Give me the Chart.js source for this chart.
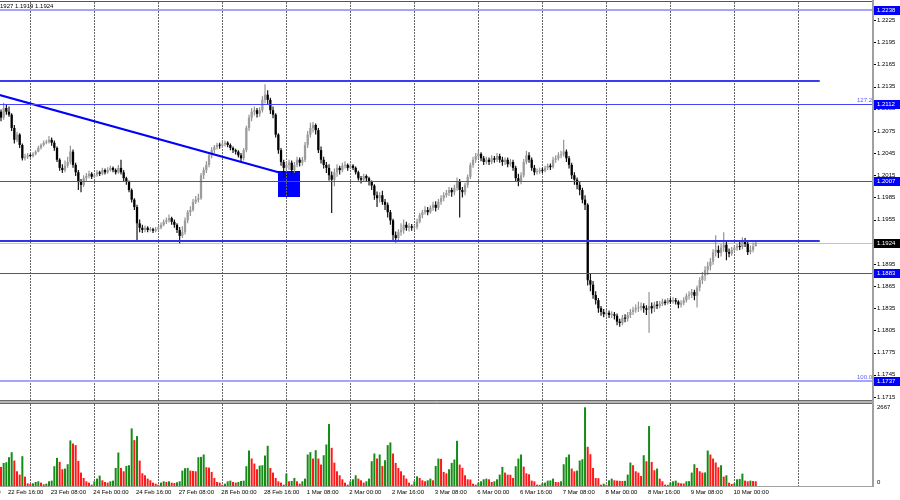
<!DOCTYPE html>
<html><head><meta charset="utf-8">
<script src="https://cdn.jsdelivr.net/npm/chart.js@4.4.0/dist/chart.umd.min.js"></script>
<style>html,body{margin:0;padding:0;background:#fff;overflow:hidden}canvas{display:block}</style>
</head><body>
<canvas id="c" width="900" height="500"></canvas>
<script>
// ---------- DATA (EURUSD H1, 22 Feb 13:00 .. 10 Mar 09:00) ----------
const firstOpen = 1.2101;
const closes = [
1.2093,1.2106,1.2101,1.2097,1.2079,1.2063,1.2070,1.2056,1.2038,1.2040,
1.2042,1.2041,1.2044,1.2047,1.2052,1.2056,1.2059,1.2060,1.2063,1.2059,
1.2052,1.2036,1.2025,1.2022,1.2028,1.2033,1.2047,1.2029,1.2019,1.2006,
1.2002,1.2011,1.2014,1.2017,1.2013,1.2015,1.2019,1.2017,1.2022,1.2019,
1.2022,1.2025,1.2022,1.2019,1.2025,1.2019,1.2011,1.2006,1.1995,1.1982,
1.1972,1.1950,1.1944,1.1941,1.1944,1.1941,1.1942,1.1940,1.1942,1.1944,
1.1948,1.1952,1.1954,1.1957,1.1952,1.1948,1.1941,1.1933,1.1938,1.1954,
1.1965,1.1968,1.1979,1.1982,1.1984,1.2015,1.2022,1.2029,1.2042,1.2049,
1.2053,1.2056,1.2055,1.2057,1.2059,1.2056,1.2052,1.2049,1.2047,1.2042,
1.2038,1.2049,1.2079,1.2093,1.2101,1.2103,1.2098,1.2103,1.2117,1.2124,
1.2117,1.2103,1.2097,1.2070,1.2049,1.2033,1.2025,1.2029,1.2032,1.2022,
1.2029,1.2036,1.2032,1.2036,1.2056,1.2070,1.2079,1.2083,1.2076,1.2049,
1.2036,1.2029,1.2025,1.2015,1.2009,1.2019,1.2025,1.2022,1.2028,1.2029,
1.2025,1.2028,1.2025,1.2019,1.2011,1.2009,1.2014,1.2011,1.2006,1.2001,
1.1988,1.1984,1.1988,1.1979,1.1975,1.1965,1.1954,1.1934,1.1930,1.1938,
1.1941,1.1948,1.1944,1.1946,1.1944,1.1945,1.1952,1.1961,1.1965,1.1968,
1.1965,1.1971,1.1975,1.1971,1.1979,1.1984,1.1988,1.1991,1.1995,1.1992,
1.1998,1.2006,1.1995,1.1992,1.2002,1.2013,1.2029,1.2036,1.2041,1.2044,
1.2038,1.2033,1.2036,1.2033,1.2038,1.2036,1.2041,1.2036,1.2033,1.2036,
1.2030,1.2033,1.2025,1.2011,1.2006,1.2015,1.2033,1.2042,1.2036,1.2025,
1.2019,1.2020,1.2022,1.2021,1.2025,1.2028,1.2026,1.2036,1.2038,1.2042,
1.2043,1.2047,1.2038,1.2029,1.2015,1.2009,1.2002,1.1995,1.1982,1.1975,
1.1873,1.1867,1.1853,1.1846,1.1835,1.1830,1.1827,1.1829,1.1826,1.1827,
1.1825,1.1817,1.1815,1.1822,1.1821,1.1826,1.1830,1.1833,1.1835,1.1836,
1.1838,1.1835,1.1833,1.1838,1.1835,1.1840,1.1838,1.1841,1.1844,1.1842,
1.1846,1.1844,1.1846,1.1844,1.1840,1.1842,1.1846,1.1852,1.1853,1.1857,
1.1852,1.1863,1.1873,1.1879,1.1887,1.1892,1.1898,1.1911,1.1914,1.1910,
1.1917,1.1921,1.1911,1.1909,1.1914,1.1917,1.1919,1.1918,1.1927,1.1922,
1.1911,1.1914,1.1919,1.1924];
const highs = [
1.2104,1.2113,1.2110,1.2108,1.2099,1.2083,1.2074,1.2072,1.2058,1.2044,
1.2045,1.2044,1.2046,1.2049,1.2055,1.2058,1.2062,1.2063,1.2068,1.2066,
1.2062,1.2054,1.2038,1.2030,1.2035,1.2040,1.2055,1.2050,1.2032,1.2022,
1.2010,1.2015,1.2018,1.2021,1.2019,1.2018,1.2022,1.2021,1.2025,1.2024,
1.2026,1.2028,1.2027,1.2024,1.2029,1.2036,1.2022,1.2013,1.2008,1.1997,
1.1984,1.1975,1.1955,1.1948,1.1947,1.1946,1.1945,1.1944,1.1945,1.1947,
1.1951,1.1955,1.1958,1.1962,1.1959,1.1955,1.1950,1.1945,1.1946,1.1958,
1.1968,1.1973,1.1983,1.1987,1.1990,1.2018,1.2026,1.2034,1.2046,1.2053,
1.2056,1.2059,1.2059,1.2062,1.2062,1.2061,1.2058,1.2054,1.2051,1.2049,
1.2045,1.2052,1.2082,1.2097,1.2106,1.2108,1.2106,1.2107,1.2122,1.2138,
1.2130,1.2120,1.2108,1.2099,1.2072,1.2052,1.2036,1.2034,1.2036,1.2035,
1.2033,1.2040,1.2039,1.2040,1.2060,1.2075,1.2086,1.2087,1.2085,1.2079,
1.2054,1.2040,1.2033,1.2030,1.2020,1.2024,1.2030,1.2028,1.2032,1.2034,
1.2031,1.2031,1.2030,1.2027,1.2021,1.2014,1.2017,1.2016,1.2013,1.2008,
1.2003,1.1993,1.1992,1.1994,1.1983,1.1978,1.1968,1.1956,1.1939,1.1942,
1.1950,1.1955,1.1952,1.1950,1.1949,1.1948,1.1956,1.1964,1.1968,1.1973,
1.1972,1.1974,1.1979,1.1980,1.1983,1.1988,1.1992,1.1995,1.1999,1.1998,
1.2002,1.2012,1.2010,1.1999,1.2005,1.2016,1.2032,1.2040,1.2045,1.2048,
1.2046,1.2041,1.2040,1.2039,1.2042,1.2041,1.2045,1.2044,1.2040,1.2039,
1.2039,1.2037,1.2036,1.2028,1.2017,1.2019,1.2037,1.2048,1.2046,1.2039,
1.2029,1.2024,1.2025,1.2025,1.2028,1.2031,1.2031,1.2040,1.2042,1.2046,
1.2048,1.2063,1.2050,1.2041,1.2032,1.2019,1.2012,1.2006,1.1998,1.1988,
1.1977,1.1882,1.1872,1.1858,1.1849,1.1838,1.1834,1.1833,1.1832,1.1831,
1.1830,1.1828,1.1821,1.1826,1.1827,1.1830,1.1834,1.1837,1.1840,1.1844,
1.1843,1.1842,1.1839,1.1857,1.1843,1.1844,1.1845,1.1845,1.1848,1.1847,
1.1849,1.1849,1.1850,1.1849,1.1846,1.1846,1.1850,1.1855,1.1858,1.1861,
1.1860,1.1866,1.1877,1.1884,1.1892,1.1898,1.1903,1.1915,1.1934,1.1920,
1.1922,1.1938,1.1925,1.1916,1.1918,1.1920,1.1922,1.1925,1.1931,1.1930,
1.1925,1.1920,1.1924,1.1927];
const lows = [
1.2088,1.2090,1.2097,1.2094,1.2075,1.2058,1.2060,1.2052,1.2035,1.2035,
1.2037,1.2039,1.2039,1.2042,1.2046,1.2050,1.2054,1.2057,1.2058,1.2055,
1.2048,1.2033,1.2021,1.2018,1.2019,1.2025,1.2030,1.2025,1.2014,1.1995,
1.1992,1.1999,1.2007,1.2011,1.2010,1.2011,1.2013,1.2014,1.2015,1.2016,
1.2017,1.2020,1.2019,1.2016,1.2017,1.2016,1.2007,1.2002,1.1992,1.1978,
1.1968,1.1927,1.1938,1.1937,1.1938,1.1938,1.1939,1.1937,1.1938,1.1940,
1.1942,1.1946,1.1949,1.1951,1.1948,1.1944,1.1937,1.1923,1.1930,1.1935,
1.1950,1.1960,1.1966,1.1976,1.1978,1.1982,1.2010,1.2018,1.2026,1.2038,
1.2045,1.2050,1.2051,1.2052,1.2054,1.2053,1.2049,1.2045,1.2043,1.2039,
1.2034,1.2035,1.2046,1.2075,1.2088,1.2096,1.2093,1.2094,1.2100,1.2112,
1.2111,1.2098,1.2092,1.2066,1.2044,1.2028,1.2012,1.2020,1.2022,1.2015,
1.2018,1.2026,1.2027,1.2028,1.2033,1.2052,1.2066,1.2073,1.2070,1.2045,
1.2031,1.2024,1.2018,1.2008,1.1964,1.2000,1.2013,1.2016,1.2019,1.2024,
1.2021,1.2023,1.2022,1.2016,1.2008,1.2004,1.2006,1.2007,1.2001,1.1995,
1.1982,1.1972,1.1978,1.1975,1.1968,1.1958,1.1948,1.1927,1.1924,1.1926,
1.1933,1.1936,1.1940,1.1939,1.1940,1.1941,1.1942,1.1950,1.1957,1.1962,
1.1961,1.1963,1.1967,1.1966,1.1968,1.1975,1.1980,1.1985,1.1987,1.1986,
1.1988,1.1994,1.1958,1.1985,1.1988,1.1998,1.2010,1.2025,1.2032,1.2037,
1.2034,1.2029,1.2030,1.2029,1.2030,1.2032,1.2033,1.2032,1.2028,1.2029,
1.2026,1.2027,1.2021,1.2006,1.2000,1.2003,1.2012,1.2030,1.2032,1.2021,
1.2015,1.2016,1.2017,1.2018,1.2019,1.2022,1.2022,1.2024,1.2032,1.2035,
1.2038,1.2040,1.2033,1.2024,1.2010,1.2002,1.1996,1.1988,1.1977,1.1968,
1.1866,1.1858,1.1848,1.1840,1.1829,1.1825,1.1823,1.1824,1.1822,1.1822,
1.1820,1.1812,1.1810,1.1812,1.1816,1.1817,1.1822,1.1826,1.1829,1.1830,
1.1832,1.1829,1.1826,1.1802,1.1828,1.1830,1.1834,1.1835,1.1838,1.1839,
1.1840,1.1841,1.1841,1.1840,1.1835,1.1836,1.1839,1.1843,1.1847,1.1849,
1.1846,1.1836,1.1858,1.1868,1.1872,1.1880,1.1886,1.1894,1.1905,1.1903,
1.1905,1.1912,1.1900,1.1904,1.1906,1.1910,1.1913,1.1914,1.1915,1.1918,
1.1907,1.1908,1.1911,1.1919];
const volumes = [
647,783,806,976,1146,863,499,386,1010,318,
91,68,91,136,159,114,57,79,159,182,
670,953,817,568,590,738,1544,1441,1385,851,
454,272,159,114,45,159,250,352,193,136,
114,159,182,613,1135,613,499,681,704,1952,
1555,1691,863,431,363,250,193,114,79,45,
114,159,136,159,114,102,125,159,522,602,
613,522,511,499,976,987,1067,636,624,477,
272,136,114,45,79,159,182,136,114,136,
170,182,670,1203,931,760,568,692,704,1033,
1362,613,454,272,159,114,45,420,159,170,
272,159,79,159,250,1067,1146,931,1214,931,
726,1044,1407,2100,1294,794,499,363,227,114,
45,159,227,363,250,193,114,159,250,840,
1101,931,1067,681,874,1385,1476,1101,783,613,
499,363,250,114,45,159,329,272,193,159,
193,250,193,681,931,920,477,430,568,783,
897,1532,726,613,363,227,220,79,45,114,
159,227,250,227,136,159,227,386,647,454,
386,380,272,670,931,1067,658,431,397,182,
159,45,40,91,114,182,190,250,136,130,
159,738,976,1067,590,499,522,863,908,2667,
1328,1078,613,272,265,45,79,45,193,250,
193,182,175,170,175,386,795,704,499,454,
340,1044,840,2032,817,533,590,250,159,45,
40,114,159,182,114,91,85,159,165,454,
738,613,499,454,460,1203,1067,931,795,636,
704,318,363,114,68,91,227,235,420,182,
159,182,170,159];
const timeLabels = ['22 Feb 00:00','22 Feb 16:00','23 Feb 08:00','24 Feb 00:00','24 Feb 16:00','27 Feb 08:00','28 Feb 00:00','28 Feb 16:00','1 Mar 08:00','2 Mar 00:00','2 Mar 16:00','3 Mar 08:00','6 Mar 00:00','6 Mar 16:00','7 Mar 08:00','8 Mar 00:00','8 Mar 16:00','9 Mar 08:00','10 Mar 00:00'];
const timeLabelBars = [-13,3,19,35,51,67,83,99,115,131,147,163,179,195,211,227,243,259,275];
const dayGridBars = [11,35,59,83,107,131,155,179,203,227,251,275,299];
const priceTicks = [1.2225,1.2195,1.2165,1.2135,1.2105,1.2075,1.2045,1.2015,1.1985,1.1955,1.1925,1.1895,1.1865,1.1835,1.1805,1.1775,1.1745,1.1715];
const volumeTicks = [2667, 0];
const levelPrices = [1.2238, 1.2143, 1.2112, 1.2007, 1.1926, 1.1883, 1.1737];
const levelTags = ['1.2238', '', '1.2112', '1.2007', '', '1.1883', '1.1737'];
const fiboTexts = ['127.2', '100.0'];
const fiboPrices = [1.2112, 1.1737];
const lastPrice = 1.1924;
const lastPriceTag = '1.1924';
const ohlcText = '1.1927 1.1919 1.1924';
const trendBars = [-10, 104];
const trendPrices = [1.2133, 1.2019];
const boxBars = [104, 112];
const boxPrices = [1.2021, 1.1986];
const segmentEndBar = 307;

// ---------- derived ----------
const opens = closes.map((c, i) => i === 0 ? firstOpen : closes[i - 1]);
const BULL = '#9c9c9c', BEAR = '#000000';
const candleColors = closes.map((c, i) => c > opens[i] ? BULL : BEAR);
const wickColors = closes.map((c, i) => c > opens[i] ? '#8a8a8a' : '#000000');
const volColors = volumes.map((v, i) => (i > 0 && v > volumes[i - 1]) ? '#168c16' : '#ff1a1a');

const levelStyles = [
  {c:'#a4a4ff', w:2, seg:false},
  {c:'#3c3cf0', w:2, seg:true},
  {c:'#4444ff', w:1, seg:false},
  {c:'#4444ff', w:1, seg:false},
  {c:'#3333e8', w:2, seg:true},
  {c:'#4444ff', w:1, seg:false},
  {c:'#a4a4ff', w:2, seg:false}
];
const FONT = '6px "Liberation Sans", Arial, sans-serif';

const mtPlugin = {
  id: 'mt',
  beforeDatasetsDraw(chart) {
    const ctx = chart.ctx, xs = chart.scales.x, ys = chart.scales.y, a = chart.chartArea;
    ctx.save();
    const rx0 = Math.round(xs.getPixelForValue(boxBars[0])), rx1 = Math.round(xs.getPixelForValue(boxBars[1]));
    const ry0 = Math.round(ys.getPixelForValue(boxPrices[0])), ry1 = Math.round(ys.getPixelForValue(boxPrices[1]));
    ctx.fillStyle = '#0000ff';
    ctx.fillRect(rx0, ry0, rx1 - rx0, ry1 - ry0);
    ctx.strokeStyle = '#666666'; ctx.lineWidth = 1; ctx.setLineDash([2, 1]);
    dayGridBars.forEach(b => {
      const px = Math.round(xs.getPixelForValue(b)) + 0.5;
      ctx.beginPath(); ctx.moveTo(px, a.top); ctx.lineTo(px, a.bottom); ctx.stroke();
    });
    ctx.setLineDash([]);
    const by = Math.round(ys.getPixelForValue(lastPrice)) + 0.5;
    ctx.strokeStyle = '#c4c4c4';
    ctx.beginPath(); ctx.moveTo(a.left, by); ctx.lineTo(a.right, by); ctx.stroke();
    ctx.restore();
  },
  afterDatasetsDraw(chart) {
    const ctx = chart.ctx, xs = chart.scales.x, ys = chart.scales.y, a = chart.chartArea;
    ctx.save();
    ctx.beginPath(); ctx.rect(a.left, a.top, a.right - a.left, 400 - a.top); ctx.clip();
    ctx.strokeStyle = '#0000ff'; ctx.lineWidth = 2;
    ctx.beginPath();
    ctx.moveTo(xs.getPixelForValue(trendBars[0]), ys.getPixelForValue(trendPrices[0]));
    ctx.lineTo(xs.getPixelForValue(trendBars[1]), ys.getPixelForValue(trendPrices[1]));
    ctx.stroke();
    levelPrices.forEach((p, k) => {
      const st = levelStyles[k];
      let y = ys.getPixelForValue(p);
      y = st.w === 1 ? Math.round(y) + 0.5 : Math.round(y);
      const xEnd = st.seg ? xs.getPixelForValue(segmentEndBar) : a.right;
      ctx.strokeStyle = st.c; ctx.lineWidth = st.w;
      ctx.beginPath(); ctx.moveTo(a.left, y); ctx.lineTo(xEnd, y); ctx.stroke();
    });
    ctx.font = FONT; ctx.fillStyle = '#5a5aff'; ctx.textAlign = 'right'; ctx.textBaseline = 'bottom';
    fiboTexts.forEach((t, k) => {
      ctx.fillText(t, a.right, Math.round(ys.getPixelForValue(fiboPrices[k])) - 1);
    });
    ctx.restore();
  },
  afterDraw(chart) {
    const ctx = chart.ctx, xs = chart.scales.x, ys = chart.scales.y, yv = chart.scales.yv, a = chart.chartArea;
    ctx.save();
    ctx.strokeStyle = '#555555'; ctx.lineWidth = 1;
    ctx.beginPath(); ctx.moveTo(0, 1.5); ctx.lineTo(a.right, 1.5); ctx.stroke();
    ctx.fillStyle = '#b4b4b4'; ctx.fillRect(0, 400, a.right + 1, 4);
    ctx.strokeStyle = '#6a6a6a';
    ctx.beginPath(); ctx.moveTo(0, 400.5); ctx.lineTo(a.right + 1, 400.5); ctx.stroke();
    ctx.beginPath(); ctx.moveTo(0, 403.5); ctx.lineTo(a.right + 1, 403.5); ctx.stroke();
    ctx.strokeStyle = '#a0a0a0';
    ctx.beginPath(); ctx.moveTo(0, a.bottom + 0.5); ctx.lineTo(a.right, a.bottom + 0.5); ctx.stroke();
    ctx.strokeStyle = '#a0a0a0'; ctx.lineWidth = 2;
    ctx.beginPath(); ctx.moveTo(a.right + 1, 0); ctx.lineTo(a.right + 1, a.bottom + 1); ctx.stroke();
    ctx.lineWidth = 1;
    ctx.font = FONT; ctx.textAlign = 'left'; ctx.textBaseline = 'middle';
    ctx.fillStyle = '#000'; ctx.strokeStyle = '#000';
    priceTicks.forEach(v => {
      const y = ys.getPixelForValue(v);
      const yy = Math.round(y) + 0.5;
      ctx.beginPath(); ctx.moveTo(a.right + 2, yy); ctx.lineTo(a.right + 4, yy); ctx.stroke();
      ctx.fillText(v.toFixed(4), a.right + 5, y);
    });
    volumeTicks.forEach(v => {
      let y = yv.getPixelForValue(v);
      if (v === 0) y -= 4;
      ctx.fillText(String(v), a.right + 5, y);
    });
    levelPrices.forEach((p, k) => {
      if (!levelTags[k]) return;
      const y = Math.round(ys.getPixelForValue(p));
      ctx.fillStyle = '#0000ff';
      ctx.fillRect(a.right + 2, y - 4, 26, 9);
      ctx.fillStyle = '#ffffff';
      ctx.fillText(levelTags[k], a.right + 5, y + 0.5);
    });
    {
      const y = Math.round(ys.getPixelForValue(lastPrice));
      ctx.fillStyle = '#000000';
      ctx.fillRect(a.right + 2, y - 4, 26, 9);
      ctx.fillStyle = '#ffffff';
      ctx.fillText(lastPriceTag, a.right + 5, y + 0.5);
    }
    ctx.fillStyle = '#000';
    ctx.textBaseline = 'middle';
    timeLabels.forEach((t, k) => {
      ctx.fillText(t, xs.getPixelForValue(timeLabelBars[k]) - 1, 492.7);
    });
    ctx.fillText(ohlcText, -5, 6.5);
    ctx.restore();
  }
};

new Chart(document.getElementById('c'), {
  type: 'bar',
  data: {
    datasets: [
      { label: 'body', data: closes.map((c, i) => ({x: i, y: [opens[i], c]})), backgroundColor: candleColors,
        barThickness: 2.3, minBarLength: 1, grouped: false, yAxisID: 'y', order: 1, borderWidth: 0, inflateAmount: 0 },
      { label: 'wick', data: closes.map((c, i) => ({x: i, y: [lows[i], highs[i]]})), backgroundColor: wickColors,
        barThickness: 1.1, minBarLength: 1, grouped: false, yAxisID: 'y', order: 2, borderWidth: 0, inflateAmount: 0 },
      { label: 'volume', data: volumes.map((v, i) => ({x: i, y: v})), backgroundColor: volColors,
        barThickness: 2, grouped: false, yAxisID: 'yv', order: 3, borderWidth: 0, inflateAmount: 0 }
    ]
  },
  options: {
    responsive: false, animation: false,
    layout: { padding: { left: 0, right: 28, top: 2, bottom: 14 } },
    plugins: { legend: { display: false }, tooltip: { enabled: false } },
    scales: {
      x: { type: 'linear', min: -0.375, max: 326.6, display: false, offset: false },
      y: { type: 'linear', position: 'right', min: 1.15946, max: 1.22494, display: false },
      yv: { type: 'linear', position: 'right', min: 0, max: 16403, display: false }
    }
  },
  plugins: [mtPlugin]
});
</script>
</body></html>
